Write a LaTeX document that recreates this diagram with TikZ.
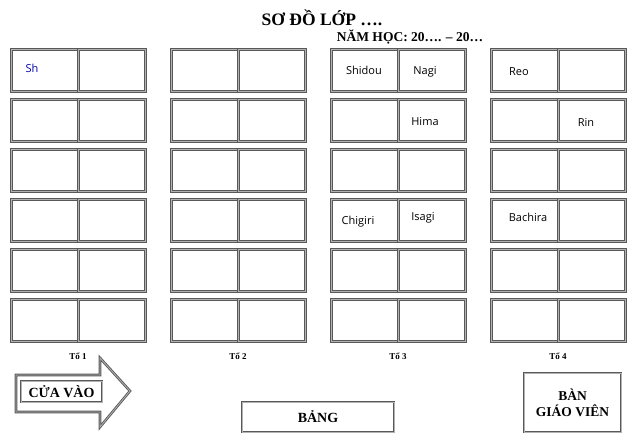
\documentclass[tikz,border=0pt]{standalone}
\usepackage{fontspec}
\setmainfont{Liberation Serif}
\newfontfamily\hand{Open Sans}
\usepackage{tikz}
\usetikzlibrary{positioning}

\tikzset{
  frame/.style={draw=black!65, double=black!30, double distance=0.8pt, line width=0.9pt},
  cell/.style={frame, minimum width=67pt, minimum height=42pt, anchor=north west, inner sep=0pt},
  pupil/.style={font=\hand\fontsize{11}{12}\selectfont},
  group/.style={font=\bfseries\fontsize{9}{10}\selectfont},
  big/.style={font=\bfseries\fontsize{14}{16}\selectfont}
}

\begin{document}
\begin{tikzpicture}[x=1pt,y=-1pt]
        \useasboundingbox (0,0) rectangle (640,438);

        \node[font=\bfseries\fontsize{17.5}{19}\selectfont] (title) at (322,18) {SƠ ĐỒ LỚP ….};
        \node[font=\bfseries\fontsize{13.5}{15}\selectfont] (year) at (410,37) {NĂM HỌC: 20…. – 20…};

        \foreach \g in {1,...,4}{
            \foreach \r in {1,...,6}{
                \node[cell] (d\g\r a) at ({11+160*(\g-1)},{49+50*(\r-1)}) {};
                \node[cell] (d\g\r b) at ({78+160*(\g-1)},{49+50*(\r-1)}) {};
            }
            \node[group] (to\g) at ({78+160*(\g-1)},356) {Tổ \g};
        }

        \node[pupil, blue!70!black] (sh) at (32,68) {Sh};
        \node[pupil] (shidou) at (364,70) {Shidou};
        \node[pupil] (nagi) at (425,72) {Nagi};
        \node[pupil] (reo) at (519,72) {Reo};
        \node[pupil] (hima) at (425,122) {Hima};
        \node[pupil] (rin) at (586,122) {Rin};
        \node[pupil] (chigiri) at (358,222) {Chigiri};
        \node[pupil] (isagi) at (423,218) {Isagi};
        \node[pupil] (bachira) at (528,217) {Bachira};

        \draw[frame] (16,375) -- (100,375) -- (100,358) -- (130,391) -- (100,427) -- (100,412) -- (16,412) -- cycle;
        \node[frame, fill=white, big, minimum width=81pt, minimum height=21pt, inner sep=0pt] (door) at (61.5,391.5) {CỬA VÀO};

        \node[frame, big, minimum width=152pt, minimum height=30pt] (board) at (318,417) {BẢNG};
        \node[frame, font=\bfseries\fontsize{13.5}{16}\selectfont, align=center, minimum width=97pt, minimum height=59pt] (teacher) at (572.5,402.5) {BÀN\\GIÁO VIÊN};

    \end{tikzpicture}
\end{document}
